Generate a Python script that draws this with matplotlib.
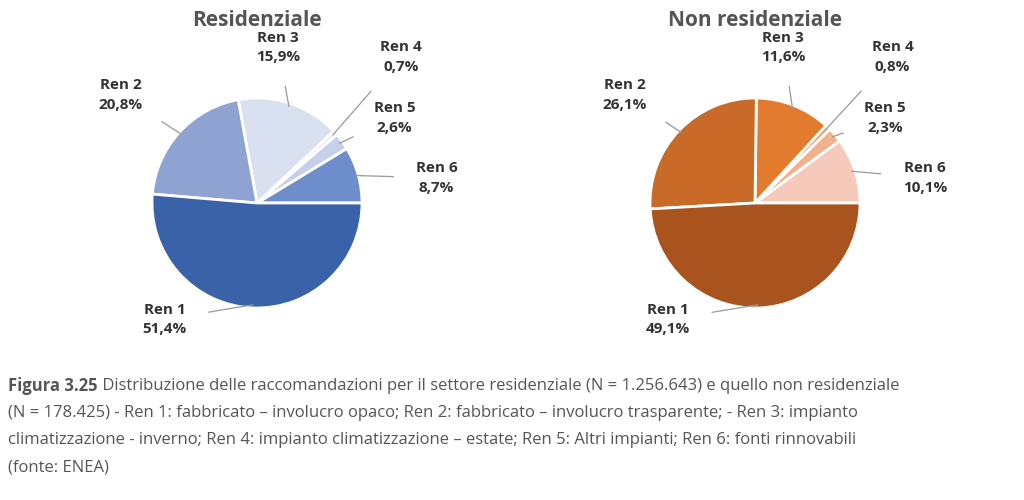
import numpy as np
import matplotlib
matplotlib.use("Agg")
import matplotlib.pyplot as plt

labels = ["Ren 1", "Ren 2", "Ren 3", "Ren 4", "Ren 5", "Ren 6"]
res_vals = [51.4, 20.8, 15.9, 0.7, 2.6, 8.7]
nonres_vals = [49.1, 26.1, 11.6, 0.8, 2.3, 10.1]
titles = ["Residenziale", "Non residenziale"]
res_colors = ["#3a62a8", "#8fa3d3", "#d9e0f0", "#e4e9f4", "#c5d1ea", "#6d8dcb"]
non_colors = ["#a9541f", "#c96a28", "#e27b2e", "#ee9a62", "#f3b08c", "#f5cabb"]

res_pos = [(-0.88, -1.11), (-1.3, 1.03), (0.2, 1.48), (1.37, 1.39), (1.31, 0.81), (1.71, 0.24)]
non_pos = [(-0.83, -1.11), (-1.24, 1.03), (0.27, 1.48), (1.31, 1.39), (1.24, 0.81), (1.62, 0.24)]

fig = plt.figure(figsize=(10.24, 5.0), dpi=100)
plt.rcParams["font.family"] = "Open Sans"

def draw(cx, vals, cols, pos, title):
    r = 105
    ax = fig.add_axes([(cx - r) / 1024, (500 - 308) / 500, 2 * r / 1024, 2 * r / 500])
    v = vals[::-1]
    c = cols[::-1]
    wedges, _ = ax.pie(v, colors=c, startangle=0, counterclock=True,
                       wedgeprops=dict(edgecolor="white", linewidth=2))
    ax.set_xlim(-1, 1); ax.set_ylim(-1, 1)
    ax.set_aspect("equal")
    ax.axis("off")
    wl = wedges[::-1]
    for i, (lab, val) in enumerate(zip(labels, vals)):
        w = wl[i]
        ang = np.deg2rad((w.theta1 + w.theta2) / 2)
        xy = (0.97 * np.cos(ang), 0.97 * np.sin(ang))
        txt = f"{lab}\n{val:.1f}".replace(".", ",") + "%"
        ax.annotate(txt, xy=xy, xytext=pos[i], ha="center", va="center",
                    fontsize=11, fontweight="bold", color="#333333",
                    linespacing=1.5, annotation_clip=False,
                    arrowprops=dict(arrowstyle="-", color="#999999", lw=0.9,
                                    shrinkA=14, shrinkB=0))
    fig.text(cx / 1024, 1 - 20 / 500, title, ha="center", va="center",
             fontsize=15, fontweight="bold", color="#555555")

draw(257, res_vals, res_colors, res_pos, titles[0])
draw(755, nonres_vals, non_colors, non_pos, titles[1])

lines = [
    " Distribuzione delle raccomandazioni per il settore residenziale (N = 1.256.643) e quello non residenziale",
    "(N = 178.425) - Ren 1: fabbricato \u2013 involucro opaco; Ren 2: fabbricato \u2013 involucro trasparente; - Ren 3: impianto",
    "climatizzazione - inverno; Ren 4: impianto climatizzazione \u2013 estate; Ren 5: Altri impianti; Ren 6: fonti rinnovabili",
    "(fonte: ENEA)",
]
x0 = 8 / 1024
y0 = 1 - 386 / 500
t = fig.text(x0, y0, "Figura 3.25", fontsize=12, fontweight="bold", color="#555555", va="center")
fig.canvas.draw()
bb = t.get_window_extent()
fig.text(bb.x1 / 1024, y0, lines[0], fontsize=12, color="#555555", va="center")
for i, ln in enumerate(lines[1:], 1):
    fig.text(x0, y0 - i * 27 / 500, ln, fontsize=12, color="#555555", va="center")

fig.savefig("out.png", dpi=100, facecolor="white")
